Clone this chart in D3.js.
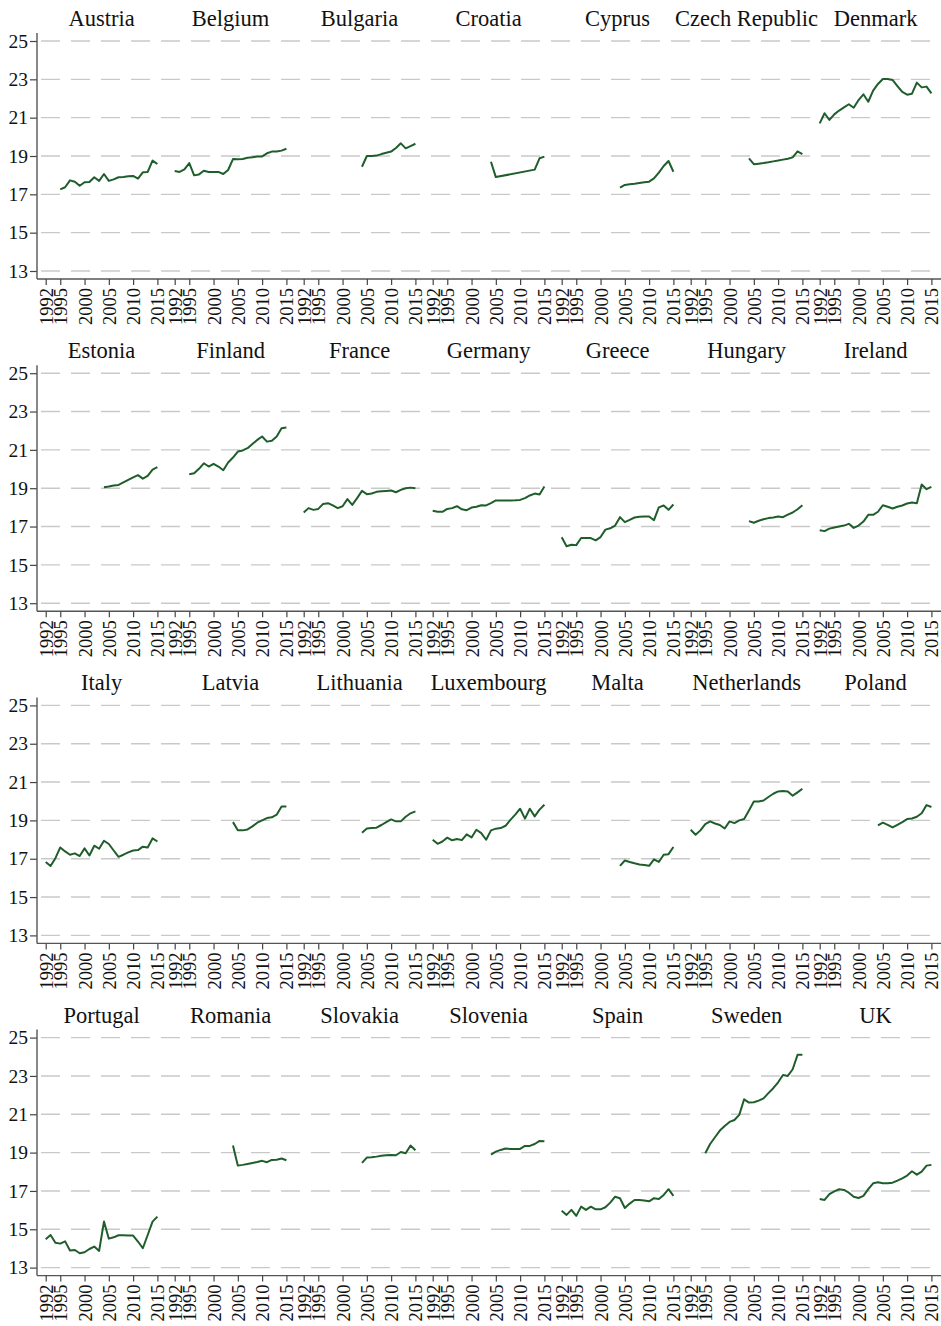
<!DOCTYPE html>
<html>
<head>
<meta charset="utf-8">
<script src="https://cdn.jsdelivr.net/npm/d3@7"></script>
<style>
  html, body { margin: 0; padding: 0; background: #fff; }
  svg { display: block; }
</style>
</head>
<body>
<svg id="chart" width="941" height="1326"></svg>
<script>
// ---- data: [year, value] per country ----
const countries = [
  "Austria", "Belgium", "Bulgaria", "Croatia", "Cyprus", "Czech Republic", "Denmark",
  "Estonia", "Finland", "France", "Germany", "Greece", "Hungary", "Ireland",
  "Italy", "Latvia", "Lithuania", "Luxembourg", "Malta", "Netherlands", "Poland",
  "Portugal", "Romania", "Slovakia", "Slovenia", "Spain", "Sweden", "UK"
];

const austria = [[1995,17.26],[1996,17.37],[1997,17.73],[1998,17.66],[1999,17.45],[2000,17.63],[2001,17.64],[2002,17.89],[2003,17.70],[2004,18.06],[2005,17.70],[2006,17.78],[2007,17.89],[2008,17.90],[2009,17.94],[2010,17.96],[2011,17.82],[2012,18.15],[2013,18.17],[2014,18.76],[2015,18.58]];
const belgium = [[1992,18.22],[1993,18.17],[1994,18.30],[1995,18.63],[1996,17.99],[1997,18.04],[1998,18.23],[1999,18.17],[2000,18.17],[2001,18.17],[2002,18.06],[2003,18.27],[2004,18.84],[2005,18.83],[2006,18.84],[2007,18.91],[2008,18.93],[2009,18.97],[2010,18.98],[2011,19.14],[2012,19.23],[2013,19.23],[2014,19.28],[2015,19.38]];
const bulgaria = [[2004,18.44],[2005,19.0],[2006,19.0],[2007,19.02],[2008,19.10],[2009,19.17],[2010,19.23],[2011,19.42],[2012,19.66],[2013,19.40],[2014,19.52],[2015,19.64]];
const croatia = [[2004,18.70],[2005,17.90],[2013,18.29],[2014,18.88],[2015,18.97]];
const cyprus = [[2004,17.35],[2005,17.49],[2006,17.52],[2007,17.55],[2008,17.59],[2009,17.63],[2010,17.66],[2011,17.83],[2012,18.13],[2013,18.48],[2014,18.74],[2015,18.18]];
const czechRepublic = [[2004,18.88],[2005,18.57],[2006,18.60],[2007,18.63],[2008,18.67],[2009,18.72],[2010,18.76],[2011,18.81],[2012,18.86],[2013,18.93],[2014,19.24],[2015,19.10]];
const denmark = [[1992,20.70],[1993,21.23],[1994,20.88],[1995,21.17],[1996,21.37],[1997,21.54],[1998,21.70],[1999,21.52],[2000,21.92],[2001,22.22],[2002,21.83],[2003,22.41],[2004,22.76],[2005,23.02],[2006,23.02],[2007,22.97],[2008,22.65],[2009,22.34],[2010,22.20],[2011,22.25],[2012,22.83],[2013,22.58],[2014,22.62],[2015,22.27]];

const estonia = [[2004,19.05],[2005,19.09],[2006,19.14],[2007,19.17],[2008,19.30],[2009,19.43],[2010,19.56],[2011,19.68],[2012,19.50],[2013,19.64],[2014,19.97],[2015,20.10]];
const finland = [[1995,19.73],[1996,19.78],[1997,20.01],[1998,20.30],[1999,20.13],[2000,20.27],[2001,20.13],[2002,19.94],[2003,20.34],[2004,20.60],[2005,20.91],[2006,20.97],[2007,21.09],[2008,21.31],[2009,21.52],[2010,21.70],[2011,21.43],[2012,21.47],[2013,21.70],[2014,22.13],[2015,22.17]];
const france = [[1992,17.73],[1993,17.96],[1994,17.87],[1995,17.92],[1996,18.18],[1997,18.22],[1998,18.10],[1999,17.96],[2000,18.06],[2001,18.43],[2002,18.13],[2003,18.48],[2004,18.86],[2005,18.69],[2006,18.72],[2007,18.81],[2008,18.84],[2009,18.86],[2010,18.88],[2011,18.79],[2012,18.91],[2013,19.00],[2014,19.03],[2015,19.00]];
const germany = [[1992,17.82],[1993,17.77],[1994,17.77],[1995,17.92],[1996,17.96],[1997,18.06],[1998,17.90],[1999,17.85],[2000,17.99],[2001,18.03],[2002,18.11],[2003,18.10],[2004,18.22],[2005,18.36],[2006,18.36],[2007,18.36],[2008,18.36],[2009,18.37],[2010,18.39],[2011,18.48],[2012,18.62],[2013,18.72],[2014,18.67],[2015,19.09]];
const greece = [[1992,16.44],[1993,15.97],[1994,16.05],[1995,16.03],[1996,16.40],[1997,16.40],[1998,16.40],[1999,16.28],[2000,16.45],[2001,16.84],[2002,16.91],[2003,17.05],[2004,17.49],[2005,17.23],[2006,17.35],[2007,17.47],[2008,17.51],[2009,17.52],[2010,17.52],[2011,17.33],[2012,18.00],[2013,18.10],[2014,17.87],[2015,18.15]];
const hungary = [[2004,17.28],[2005,17.20],[2006,17.30],[2007,17.38],[2008,17.44],[2009,17.47],[2010,17.52],[2011,17.49],[2012,17.62],[2013,17.73],[2014,17.90],[2015,18.11]];
const ireland = [[1992,16.81],[1993,16.76],[1994,16.89],[1995,16.95],[1996,17.00],[1997,17.05],[1998,17.14],[1999,16.93],[2000,17.05],[2001,17.26],[2002,17.61],[2003,17.61],[2004,17.77],[2005,18.11],[2006,18.03],[2007,17.94],[2008,18.03],[2009,18.10],[2010,18.20],[2011,18.25],[2012,18.22],[2013,19.19],[2014,18.95],[2015,19.07]];

const italy = [[1992,16.83],[1993,16.62],[1994,17.03],[1995,17.59],[1996,17.38],[1997,17.21],[1998,17.28],[1999,17.14],[2000,17.54],[2001,17.17],[2002,17.68],[2003,17.52],[2004,17.94],[2005,17.77],[2006,17.43],[2007,17.10],[2008,17.21],[2009,17.33],[2010,17.43],[2011,17.45],[2012,17.63],[2013,17.59],[2014,18.06],[2015,17.90]];
const latvia = [[2004,18.91],[2005,18.48],[2006,18.48],[2007,18.53],[2008,18.69],[2009,18.88],[2010,19.00],[2011,19.12],[2012,19.16],[2013,19.30],[2014,19.73],[2015,19.73]];
const lithuania = [[2004,18.36],[2005,18.58],[2006,18.60],[2007,18.62],[2008,18.76],[2009,18.91],[2010,19.05],[2011,18.95],[2012,18.95],[2013,19.19],[2014,19.37],[2015,19.47]];
const luxembourg = [[1992,17.99],[1993,17.78],[1994,17.90],[1995,18.10],[1996,17.96],[1997,18.03],[1998,17.97],[1999,18.27],[2000,18.11],[2001,18.51],[2002,18.34],[2003,17.99],[2004,18.48],[2005,18.57],[2006,18.60],[2007,18.72],[2008,19.03],[2009,19.30],[2010,19.61],[2011,19.09],[2012,19.61],[2013,19.21],[2014,19.56],[2015,19.82]];
const malta = [[2004,16.63],[2005,16.91],[2006,16.83],[2007,16.76],[2008,16.70],[2009,16.67],[2010,16.63],[2011,16.97],[2012,16.83],[2013,17.21],[2014,17.24],[2015,17.61]];
const netherlands = [[1992,18.51],[1993,18.25],[1994,18.48],[1995,18.81],[1996,18.95],[1997,18.84],[1998,18.76],[1999,18.58],[2000,18.95],[2001,18.86],[2002,19.00],[2003,19.07],[2004,19.52],[2005,19.99],[2006,19.99],[2007,20.04],[2008,20.22],[2009,20.39],[2010,20.51],[2011,20.54],[2012,20.51],[2013,20.29],[2014,20.46],[2015,20.65]];
const poland = [[2004,18.74],[2005,18.88],[2006,18.77],[2007,18.63],[2008,18.77],[2009,18.91],[2010,19.07],[2011,19.10],[2012,19.19],[2013,19.37],[2014,19.80],[2015,19.70]];

const portugal = [[1992,14.48],[1993,14.70],[1994,14.30],[1995,14.25],[1996,14.37],[1997,13.89],[1998,13.92],[1999,13.75],[2000,13.80],[2001,13.97],[2002,14.10],[2003,13.87],[2004,15.40],[2005,14.51],[2006,14.58],[2007,14.69],[2008,14.69],[2009,14.68],[2010,14.67],[2011,14.36],[2012,14.01],[2013,14.70],[2014,15.40],[2015,15.66]];
const romania = [[2004,19.37],[2005,18.32],[2006,18.36],[2007,18.41],[2008,18.46],[2009,18.51],[2010,18.57],[2011,18.50],[2012,18.62],[2013,18.63],[2014,18.69],[2015,18.60]];
const slovakia = [[2004,18.46],[2005,18.74],[2006,18.76],[2007,18.79],[2008,18.83],[2009,18.86],[2010,18.88],[2011,18.86],[2012,19.03],[2013,18.97],[2014,19.37],[2015,19.12]];
const slovenia = [[2004,18.90],[2005,19.05],[2006,19.14],[2007,19.21],[2008,19.19],[2009,19.19],[2010,19.19],[2011,19.35],[2012,19.35],[2013,19.45],[2014,19.61],[2015,19.59]];
const spain = [[1992,15.97],[1993,15.75],[1994,16.01],[1995,15.70],[1996,16.18],[1997,16.01],[1998,16.18],[1999,16.04],[2000,16.04],[2001,16.15],[2002,16.39],[2003,16.70],[2004,16.62],[2005,16.11],[2006,16.34],[2007,16.53],[2008,16.53],[2009,16.50],[2010,16.46],[2011,16.62],[2012,16.58],[2013,16.79],[2014,17.09],[2015,16.74]];
const sweden = [[1995,18.97],[1996,19.45],[1997,19.80],[1998,20.15],[1999,20.39],[2000,20.60],[2001,20.70],[2002,20.97],[2003,21.78],[2004,21.61],[2005,21.63],[2006,21.71],[2007,21.83],[2008,22.10],[2009,22.36],[2010,22.67],[2011,23.05],[2012,23.00],[2013,23.35],[2014,24.10],[2015,24.10]];
const uk = [[1992,16.58],[1993,16.53],[1994,16.83],[1995,16.98],[1996,17.09],[1997,17.05],[1998,16.91],[1999,16.70],[2000,16.63],[2001,16.74],[2002,17.09],[2003,17.40],[2004,17.45],[2005,17.40],[2006,17.40],[2007,17.43],[2008,17.54],[2009,17.66],[2010,17.80],[2011,18.03],[2012,17.85],[2013,18.01],[2014,18.32],[2015,18.36]];

const series = [
  austria, belgium, bulgaria, croatia, cyprus, czechRepublic, denmark,
  estonia, finland, france, germany, greece, hungary, ireland,
  italy, latvia, lithuania, luxembourg, malta, netherlands, poland,
  portugal, romania, slovakia, slovenia, spain, sweden, uk
];

const yTicks = [13, 15, 17, 19, 21, 23, 25];
const xTicks = [1992, 1995, 2000, 2005, 2010, 2015];

// ---- layout ----
const W = 941;
const nCols = 7;
const axisX = 37;          // left y-axis position
const panelStep = 129;     // horizontal stride between panels
const dataLeft = 45.7;     // x of 1992 in the first panel
const dataSpan = 111.7;    // width 1992..2015
const rowTop0 = 41;        // y of value 25 in first row
const rowStep = 332.2;
const plotH = 230;         // 25 -> 13
const lineColor = "#1f5e2b";
const serif = "'Liberation Serif', 'Times New Roman', serif";

const svg = d3.select("#chart");

for (let r = 0; r < 4; r++) {
  const top = rowTop0 + r * rowStep;
  const y = d3.scaleLinear().domain([13, 25]).range([top + plotH, top]);
  const g = svg.append("g");

  // dashed horizontal grid
  g.selectAll("line.grid").data(yTicks).join("line")
    .attr("class", "grid")
    .attr("x1", axisX + 4).attr("x2", W)
    .attr("y1", d => y(d)).attr("y2", d => y(d))
    .attr("stroke", "#c9c9c9").attr("stroke-width", 1.4)
    .attr("stroke-dasharray", "19,11");

  // y axis
  const yAxis = d3.axisLeft(y).tickValues(yTicks).tickSize(7).tickPadding(2).tickFormat(d3.format("d"));
  const ya = g.append("g").attr("transform", `translate(${axisX},0)`).call(yAxis);
  ya.select(".domain").remove();
  ya.selectAll(".tick line").attr("stroke", "#444").attr("stroke-width", 1.2);
  ya.selectAll(".tick text")
    .attr("font-family", serif).attr("font-size", 19.5).attr("fill", "#111");
  g.append("line")
    .attr("x1", axisX).attr("x2", axisX)
    .attr("y1", top - 8).attr("y2", top + plotH + 8)
    .attr("stroke", "#555").attr("stroke-width", 1.4);

  // bottom baseline across all panels
  const base = top + plotH + 8;
  g.append("line")
    .attr("x1", axisX).attr("x2", W)
    .attr("y1", base).attr("y2", base)
    .attr("stroke", "#555").attr("stroke-width", 1.4);

  for (let c = 0; c < nCols; c++) {
    const idx = r * nCols + c;
    const x0 = dataLeft + c * panelStep;
    const x = d3.scaleLinear().domain([1992, 2015]).range([x0, x0 + dataSpan]);

    // x axis with rotated year labels
    const xAxis = d3.axisBottom(x).tickValues(xTicks).tickSize(6).tickFormat(d3.format("d"));
    const xa = g.append("g").attr("transform", `translate(0,${base})`).call(xAxis);
    xa.select(".domain").remove();
    xa.selectAll(".tick line").attr("stroke", "#444").attr("stroke-width", 1.2);
    xa.selectAll(".tick text")
      .attr("font-family", serif).attr("font-size", 18.5).attr("fill", "#111")
      .attr("text-anchor", "end")
      .attr("transform", "rotate(-90)")
      .attr("x", -9).attr("y", 0).attr("dy", "0.35em");

    // panel title
    g.append("text")
      .attr("x", x0 + dataSpan / 2)
      .attr("y", top - 15)
      .attr("text-anchor", "middle")
      .attr("font-family", serif).attr("font-size", 22.5).attr("fill", "#111")
      .text(countries[idx]);

    // series line
    const line = d3.line().x(d => x(d[0])).y(d => y(d[1]));
    g.append("path")
      .datum(series[idx])
      .attr("d", line)
      .attr("fill", "none")
      .attr("stroke", lineColor)
      .attr("stroke-width", 2)
      .attr("stroke-linejoin", "round");
  }
}
</script>
</body>
</html>
